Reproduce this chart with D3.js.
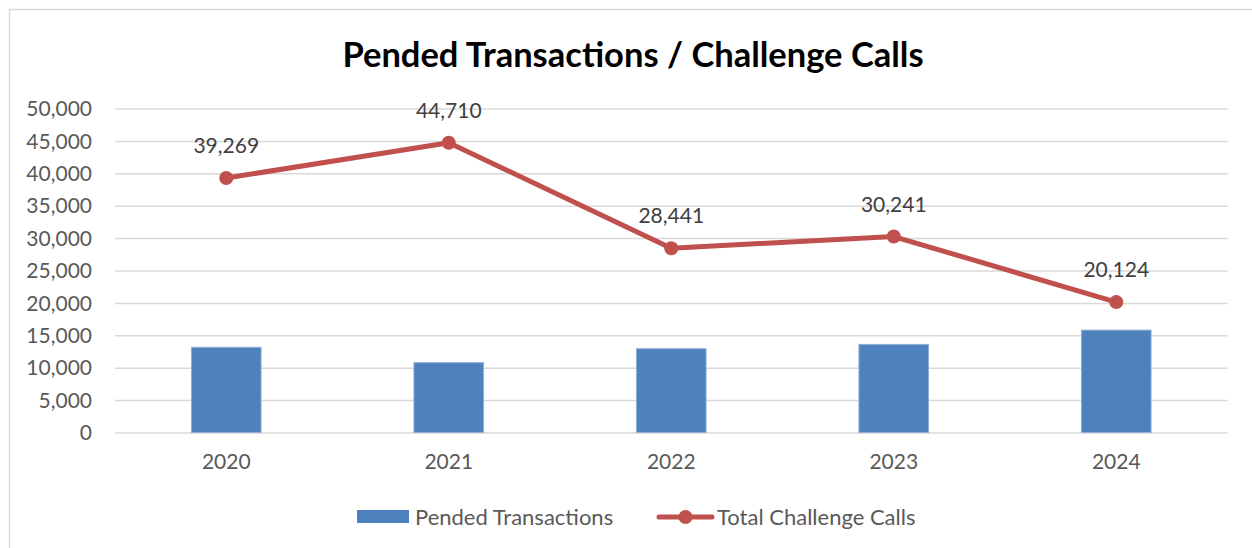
<!DOCTYPE html>
<html>
<head>
<meta charset="utf-8">
<script src="https://cdn.jsdelivr.net/npm/d3@7"></script>
<style>
  body { margin: 0; background: #fff; }
  text { font-family: Lato, "Open Sans", sans-serif; }
</style>
</head>
<body>
<div id="chart"></div>
<script>
// chart values
var years = ["2020", "2021", "2022", "2023", "2024"];
var pendedTransactions = [13150, 10780, 12930, 13600, 15800];
var challengeCalls = [39269, 44710, 28441, 30241, 20124];
var yTicks = [0, 5000, 10000, 15000, 20000, 25000, 30000, 35000, 40000, 45000, 50000];

var svgWidth = 1252, svgHeight = 548;
var margin = {top: 108.5, right: 24.5, bottom: 115.5, left: 115};
var chartWidth = svgWidth - margin.left - margin.right;
var chartHeight = svgHeight - margin.top - margin.bottom;

var svg = d3.select("#chart").append("svg")
  .attr("width", svgWidth)
  .attr("height", svgHeight);

// outer frame
svg.append("rect")
  .attr("x", 9.5).attr("y", 9.5)
  .attr("width", 1260).attr("height", 560)
  .attr("fill", "none")
  .attr("stroke", "#d9d9d9")
  .attr("stroke-width", 1.5);

svg.append("text")
  .attr("x", 633).attr("y", 67)
  .attr("text-anchor", "middle")
  .style("font-size", "34.5px")
  .style("font-weight", "bold")
  .attr("fill", "#000")
  .text("Pended Transactions / Challenge Calls");

var chartGroup = svg.append("g")
  .attr("transform", `translate(${margin.left}, ${margin.top})`);

var xScale = d3.scaleBand().domain(years).range([0, chartWidth]).paddingInner(0.687).paddingOuter(0.3435);
var xPoint = d => xScale(d) + xScale.bandwidth() / 2;
var yScale = d3.scaleLinear().domain([0, 50000]).range([chartHeight, 0]);

// gridlines + y labels
var leftAxis = d3.axisLeft(yScale).tickValues(yTicks).tickSize(-chartWidth).tickPadding(23)
  .tickFormat(d3.format(","));
var yAxis = chartGroup.append("g").call(leftAxis);
yAxis.select(".domain").remove();
yAxis.selectAll("line").attr("stroke", "#d9d9d9").attr("stroke-width", 1.5);
yAxis.selectAll("text").attr("fill", "#595959").style("font-size", "21px").attr("dy", "0.34em");

var bottomAxis = d3.axisBottom(xScale).tickSize(0).tickPadding(22);
var xAxis = chartGroup.append("g")
  .attr("transform", `translate(0, ${chartHeight})`)
  .call(bottomAxis);
xAxis.select(".domain").remove();
xAxis.selectAll("text").attr("fill", "#595959").style("font-size", "21px");

// bars
chartGroup.selectAll("rect.bar").data(years).enter()
  .append("rect")
  .attr("class", "bar")
  .attr("x", d => xScale(d))
  .attr("y", (d, i) => yScale(pendedTransactions[i]))
  .attr("width", xScale.bandwidth())
  .attr("height", (d, i) => chartHeight - yScale(pendedTransactions[i]))
  .attr("fill", "#4f81bd")
  .attr("stroke", "#8fb0d8")
  .attr("stroke-width", 1);

// line
var line = d3.line().x((d, i) => xPoint(years[i])).y(d => yScale(d));
chartGroup.append("path")
  .datum(challengeCalls)
  .attr("d", line)
  .attr("fill", "none")
  .attr("stroke", "#c0504d")
  .attr("stroke-width", 5)
  .attr("stroke-linejoin", "round")
  .attr("stroke-linecap", "round");

chartGroup.selectAll("circle.pt").data(challengeCalls).enter()
  .append("circle")
  .attr("class", "pt")
  .attr("cx", (d, i) => xPoint(years[i]))
  .attr("cy", d => yScale(d))
  .attr("r", 7)
  .attr("fill", "#c0504d");

chartGroup.selectAll("text.lbl").data(challengeCalls).enter()
  .append("text")
  .attr("class", "lbl")
  .attr("x", (d, i) => xPoint(years[i]))
  .attr("y", d => yScale(d) - 25)
  .attr("text-anchor", "middle")
  .attr("fill", "#404040")
  .style("font-size", "21px")
  .text(d => d3.format(",")(d));

// legend
var legend = svg.append("g");
legend.append("rect")
  .attr("x", 357).attr("y", 510).attr("width", 52).attr("height", 13)
  .attr("fill", "#4f81bd");
legend.append("text")
  .attr("x", 415).attr("y", 517).attr("dy", "0.35em")
  .attr("fill", "#595959").style("font-size", "22px")
  .text("Pended Transactions");
legend.append("line")
  .attr("x1", 659).attr("x2", 712).attr("y1", 517).attr("y2", 517)
  .attr("stroke", "#c0504d").attr("stroke-width", 5).attr("stroke-linecap", "round");
legend.append("circle")
  .attr("cx", 685.5).attr("cy", 517).attr("r", 7).attr("fill", "#c0504d");
legend.append("text")
  .attr("x", 717).attr("y", 517).attr("dy", "0.35em")
  .attr("fill", "#595959").style("font-size", "22px")
  .text("Total Challenge Calls");
</script>
</body>
</html>
